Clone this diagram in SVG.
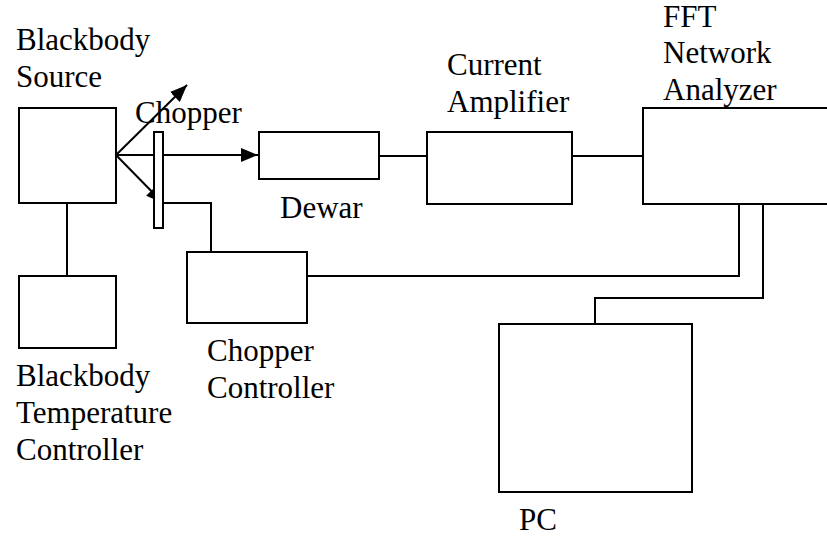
<svg xmlns="http://www.w3.org/2000/svg" width="827" height="540" viewBox="0 0 827 540">
<style>
.box{fill:#fff;stroke:#000;stroke-width:2}
.ln{fill:none;stroke:#000;stroke-width:2}
</style>
<defs>
<marker id="ah" markerUnits="userSpaceOnUse" markerWidth="18" markerHeight="14" refX="17" refY="7" orient="auto">
<path d="M0,0 L17,7 L0,14 Z" fill="#000"/>
</marker>
</defs>
<rect width="827" height="540" fill="#fff"/>
<g id="connectors">
<line class="ln" x1="116" y1="155" x2="187" y2="85" marker-end="url(#ah)"/>
<line class="ln" x1="116" y1="155" x2="258" y2="155" marker-end="url(#ah)"/>
<line class="ln" x1="116" y1="155" x2="163" y2="203" marker-end="url(#ah)"/>
<polyline class="ln" points="163,203 211,203 211,252"/>
<line class="ln" x1="67" y1="203" x2="67" y2="276"/>
<line class="ln" x1="379" y1="156" x2="427" y2="156"/>
<line class="ln" x1="572" y1="156" x2="643" y2="156"/>
<polyline class="ln" points="307,276 739,276 739,204"/>
<polyline class="ln" points="763,204 763,298 595,298 595,324"/>
</g>
<g font-family="Times New Roman, Tinos, Liberation Serif, serif" font-size="31">
<g id="blackbody-source">
<rect class="box" x="19" y="108" width="97" height="95"/>
<text x="16" y="50">Blackbody</text>
<text x="16" y="87">Source</text>
</g>
<g id="chopper">
<rect class="box" x="154" y="132" width="9" height="96"/>
<text x="135" y="123">Chopper</text>
</g>
<g id="dewar">
<rect class="box" x="259" y="132" width="120" height="47"/>
<text x="280" y="218">Dewar</text>
</g>
<g id="current-amplifier">
<rect class="box" x="427" y="132" width="145" height="72"/>
<text x="447" y="75">Current</text>
<text x="447" y="112">Amplifier</text>
</g>
<g id="fft-analyzer">
<rect class="box" x="643" y="108" width="200" height="96"/>
<text x="663" y="27">FFT</text>
<text x="663" y="63">Network</text>
<text x="663" y="100">Analyzer</text>
</g>
<g id="temperature-controller">
<rect class="box" x="19" y="276" width="97" height="72"/>
<text x="16" y="386">Blackbody</text>
<text x="16" y="423">Temperature</text>
<text x="16" y="460">Controller</text>
</g>
<g id="chopper-controller">
<rect class="box" x="187" y="252" width="120" height="71"/>
<text x="207" y="361">Chopper</text>
<text x="207" y="398">Controller</text>
</g>
<g id="pc">
<rect class="box" x="499" y="324" width="193" height="168"/>
<text x="519" y="530">PC</text>
</g>
</g>
</svg>
